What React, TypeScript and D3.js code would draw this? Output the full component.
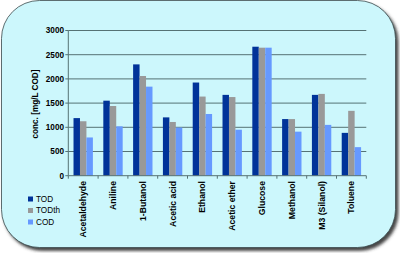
import React from "react";
import * as d3 from "d3";

const categories = ["Acetaldehyde", "Aniline", "1-Butanol", "Acetic acid", "Ethanol", "Acetic ether", "Glucose", "Methanol", "M3 (Silanol)", "Toluene"];
const seriesNames = ["TOD", "TODth", "COD"];
const tod = [1190, 1550, 2300, 1205, 1925, 1670, 2665, 1170, 1670, 885];
const todth = [1125, 1440, 2060, 1110, 1635, 1625, 2645, 1170, 1690, 1340];
const cod = [790, 1020, 1840, 995, 1275, 950, 2645, 910, 1050, 590];
const yTicks = [0, 500, 1000, 1500, 2000, 2500, 3000];
const colors = ["#003399", "#999999", "#6699ff"];

export default function App() {
  const W = 400, H = 253;
  const left = 68.3, right = 366.3, top = 30.5, bottom = 175.7;
  const y = d3.scaleLinear().domain([0, 3000]).range([bottom, top]);
  const x0 = d3.scaleBand<string>().domain(categories).range([left, right]).paddingInner(0.35).paddingOuter(0.175);
  const x1 = d3.scaleBand<string>().domain(seriesNames).range([0, x0.bandwidth()]);
  const step = x0.step();
  const data = [tod, todth, cod];
  const font = "'Liberation Sans', Arial, sans-serif";
  const gridColor = "#557274";

  return (
    <svg width={W} height={H} style={{ position: "absolute", left: 0, top: 0, background: "#ffffff" }} fontFamily={font}>
      <defs>
        <filter id="sh" x="-5%" y="-5%" width="115%" height="115%">
          <feDropShadow dx="2.5" dy="3" stdDeviation="1.6" floodColor="#333" floodOpacity="0.9" />
        </filter>
      </defs>
      <rect x={1.5} y={0.5} width={394} height={247} rx={38} ry={38} fill="#ccf7fc" stroke="#3a4a4c" strokeWidth={0.8} filter="url(#sh)" />
      {yTicks.map((t) => (
        <g key={t}>
          {t > 0 && <line x1={left} x2={right} y1={y(t)} y2={y(t)} stroke={gridColor} strokeWidth={1} />}
          <line x1={left - 3} x2={left} y1={y(t)} y2={y(t)} stroke={gridColor} strokeWidth={1} />
          <text x={64} y={y(t)} dy="0.35em" textAnchor="end" fontSize={8.2} fontWeight="bold" fill="#000">{t}</text>
        </g>
      ))}
      {categories.map((c, i) => (
        <g key={c}>
          {data.map((s, j) => (
            <rect key={j} x={(x0(c) as number) + (x1(seriesNames[j]) as number)} y={y(s[i])} width={x1.bandwidth()} height={bottom - y(s[i])} fill={colors[j]} />
          ))}
        </g>
      ))}
      <line x1={left} x2={left} y1={top} y2={bottom} stroke={gridColor} strokeWidth={1} />
      <line x1={left} x2={right} y1={bottom} y2={bottom} stroke={gridColor} strokeWidth={1} />
      {d3.range(categories.length + 1).map((k) => (
        <line key={k} x1={left + k * step} x2={left + k * step} y1={bottom} y2={bottom + 3} stroke={gridColor} strokeWidth={1} />
      ))}
      {categories.map((c) => {
        const cx = (x0(c) as number) + x0.bandwidth() / 2;
        return (
          <text key={c} transform={`translate(${cx},181) rotate(-90)`} dy="0.35em" textAnchor="end" fontSize={8.7} fontWeight="bold" fill="#000">{c}</text>
        );
      })}
      <text transform={`translate(35,104) rotate(-90)`} dy="0.35em" textAnchor="middle" fontSize={8.2} fontWeight="bold" fill="#000">conc. [mg/L COD]</text>
      {seriesNames.map((n, j) => (
        <g key={n} transform={`translate(28,${199 + j * 11.5})`}>
          <rect x={0} y={-2.5} width={5} height={5} fill={colors[j]} />
          <text x={8} y={0} dy="0.35em" fontSize={8.2} fill="#000">{n}</text>
        </g>
      ))}
    </svg>
  );
}
